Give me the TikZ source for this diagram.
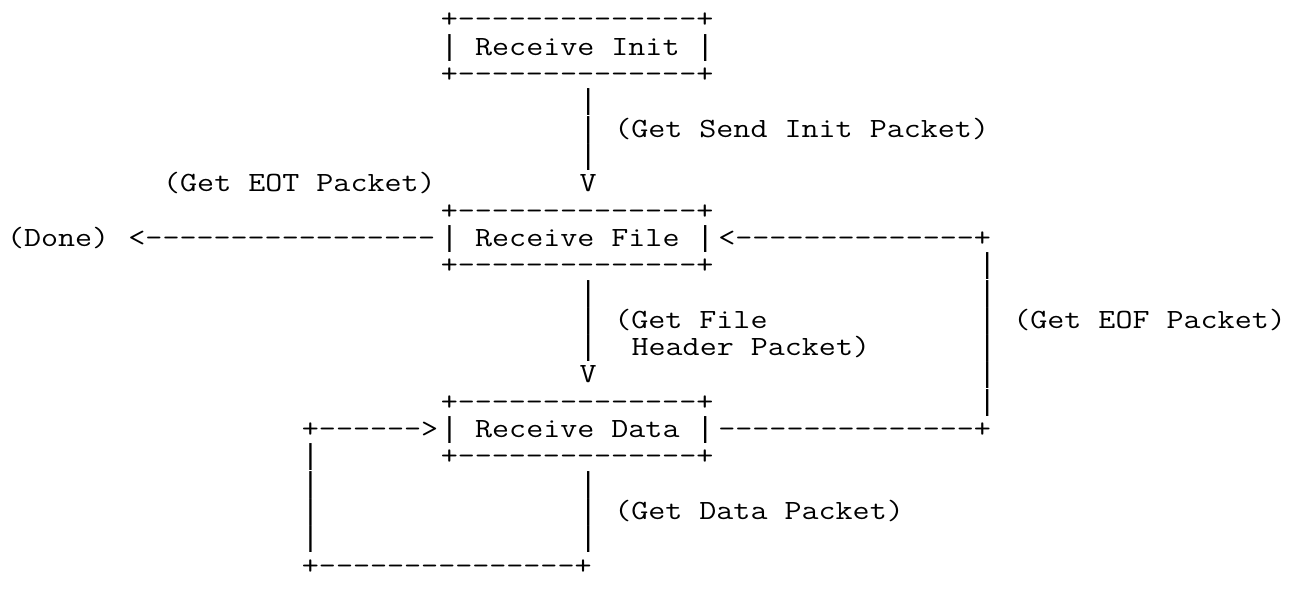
\documentclass[tikz,border=0pt]{standalone}
\usepackage{fontspec}
\setmonofont{Latin Modern Mono}[FakeStretch=1.19]
\newfontfamily\vbarfont{Liberation Mono}
\ExplSyntaxOn
\cs_new:Npn \dsh #1 { \prg_replicate:nn {#1} {-} }
\ExplSyntaxOff
\newcommand\vb{{\vbarfont\fontsize{28.91}{28.91}\selectfont|}}
\tikzset{
  txt/.style={anchor=base west, inner sep=0pt, outer sep=0pt, text=black,
    font=\ttfamily\fontsize{27.8}{27.8}\selectfont},
}
\newcommand\cx[1]{7+#1*17.35}
\newcommand\ry[1]{27.7+#1*27.33}
\begin{document}
\begin{tikzpicture}[x=1pt,y=-1pt]
\useasboundingbox (0,0) rectangle (1293,595);
% Receive Init box
\node[txt] (initTop) at ({\cx{25}},{\ry{0}}) {+\dsh{14}+};
\node[txt] (init)    at ({\cx{25}},{\ry{1}}) {\vb{} Receive Init \vb};
\node[txt] (initBot) at ({\cx{25}},{\ry{2}}) {+\dsh{14}+};
% Send Init transition
\node[txt] (a3) at ({\cx{33}},{\ry{3}}) {\vb};
\node[txt] (a4) at ({\cx{33}},{\ry{4}}) {\vb};
\node[txt] (lSendInit) at ({\cx{35}},{\ry{4}}) {(Get Send Init Packet)};
\node[txt] (a5) at ({\cx{33}},{\ry{5}}) {\vb};
\node[txt] (lEOT) at ({\cx{9}},{\ry{6}}) {(Get EOT Packet)};
\node[txt] (a6) at ({\cx{33}},{\ry{6}}) {V};
% Receive File box
\node[txt] (fileTop) at ({\cx{25}},{\ry{7}}) {+\dsh{14}+};
\node[txt] (done)    at ({\cx{0}},{\ry{8}}) {(Done)};
\node[txt] (toDone)  at ({\cx{7}},{\ry{8}}) {<\dsh{17}};
\node[txt] (file)    at ({\cx{25}},{\ry{8}}) {\vb{} Receive File \vb};
\node[txt] (fromEOF) at ({\cx{41}},{\ry{8}}) {<\dsh{14}+};
\node[txt] (fileBot) at ({\cx{25}},{\ry{9}}) {+\dsh{14}+};
% right loop (EOF)
\node[txt] (e9)  at ({\cx{56}},{\ry{9}}) {\vb};
\node[txt] (e10) at ({\cx{56}},{\ry{10}}) {\vb};
\node[txt] (e11) at ({\cx{56}},{\ry{11}}) {\vb};
\node[txt] (lEOF) at ({\cx{58}},{\ry{11}}) {(Get EOF Packet)};
\node[txt] (e12) at ({\cx{56}},{\ry{12}}) {\vb};
\node[txt] (e13) at ({\cx{56}},{\ry{13}}) {\vb};
\node[txt] (e14) at ({\cx{56}},{\ry{14}}) {\vb};
% File header transition
\node[txt] (b10) at ({\cx{33}},{\ry{10}}) {\vb};
\node[txt] (b11) at ({\cx{33}},{\ry{11}}) {\vb};
\node[txt] (lHdr1) at ({\cx{35}},{\ry{11}}) {(Get File};
\node[txt] (b12) at ({\cx{33}},{\ry{12}}) {\vb};
\node[txt] (lHdr2) at ({\cx{36}},{\ry{12}}) {Header Packet)};
\node[txt] (b13) at ({\cx{33}},{\ry{13}}) {V};
% Receive Data box
\node[txt] (dataTop) at ({\cx{25}},{\ry{14}}) {+\dsh{14}+};
\node[txt] (toData)  at ({\cx{17}},{\ry{15}}) {+\dsh{6}>};
\node[txt] (data)    at ({\cx{25}},{\ry{15}}) {\vb{} Receive Data \vb};
\node[txt] (toEOF)   at ({\cx{41}},{\ry{15}}) {\dsh{15}+};
\node[txt] (dataBot) at ({\cx{25}},{\ry{16}}) {+\dsh{14}+};
% Data loop
\node[txt] (d16) at ({\cx{17}},{\ry{16}}) {\vb};
\node[txt] (d17l) at ({\cx{17}},{\ry{17}}) {\vb};
\node[txt] (d17r) at ({\cx{33}},{\ry{17}}) {\vb};
\node[txt] (d18l) at ({\cx{17}},{\ry{18}}) {\vb};
\node[txt] (d18r) at ({\cx{33}},{\ry{18}}) {\vb};
\node[txt] (lData) at ({\cx{35}},{\ry{18}}) {(Get Data Packet)};
\node[txt] (d19l) at ({\cx{17}},{\ry{19}}) {\vb};
\node[txt] (d19r) at ({\cx{33}},{\ry{19}}) {\vb};
\node[txt] (d20) at ({\cx{17}},{\ry{20}}) {+\dsh{15}+};
\end{tikzpicture}
\end{document}
